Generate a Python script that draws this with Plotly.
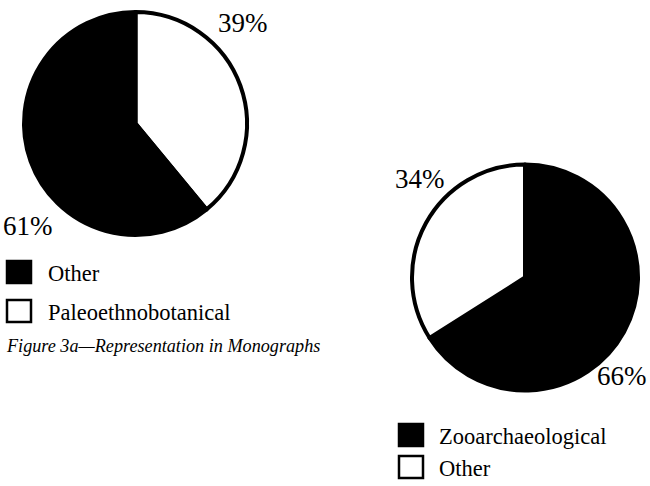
import plotly.graph_objects as go

W, H = 650, 486

# Data
monograph_labels = ["Other", "Paleoethnobotanical"]
monograph_values = [61, 39]
monograph_colors = ["#000000", "#ffffff"]

second_labels = ["Zooarchaeological", "Other"]
second_values = [66, 34]
second_colors = ["#000000", "#ffffff"]

caption = "Figure 3a\u2014Representation in Monographs"

FONT = "Liberation Serif"


def px_dom(cx, cy, r):
    return dict(x=[(cx - r) / W, (cx + r) / W], y=[1 - (cy + r) / H, 1 - (cy - r) / H])


fig = go.Figure()
# first pie: white slice runs clockwise from 12 o'clock
fig.add_trace(go.Pie(
    labels=monograph_labels[::-1], values=monograph_values[::-1], sort=False,
    direction="clockwise", rotation=0,
    marker=dict(colors=monograph_colors[::-1], line=dict(color="#000000", width=4)),
    textinfo="none", hoverinfo="label+percent",
    domain=px_dom(135.5, 123.5, 111.5), showlegend=False,
))
fig.add_trace(go.Pie(
    labels=second_labels, values=second_values, sort=False,
    direction="clockwise", rotation=0,
    marker=dict(colors=second_colors, line=dict(color="#000000", width=4)),
    textinfo="none", hoverinfo="label+percent",
    domain=px_dom(525, 277.5, 113), showlegend=False,
))

annotations = []
shapes = []


def label(x, y, text, size=27, anchor="center", italic=False):
    annotations.append(dict(
        x=x / W, y=1 - y / H, xref="paper", yref="paper", text=text,
        showarrow=False, xanchor=anchor, yanchor="middle",
        font=dict(family=FONT, size=size, color="#000000",
                  style="italic" if italic else "normal"),
    ))


# percent labels
label(243, 23, f"{monograph_values[1]}%")
label(28, 226, f"{monograph_values[0]}%")
label(420, 179, f"{second_values[1]}%")
label(622, 376, f"{second_values[0]}%")


def legend(x0, ys, labels, colors, tx):
    for (y0, y1), lab, col in zip(ys, labels, colors):
        shapes.append(dict(type="rect", xref="paper", yref="paper",
                           x0=x0 / W, x1=(x0 + 24) / W, y0=1 - y1 / H, y1=1 - y0 / H,
                           fillcolor=col, line=dict(color="#000000", width=2.5)))
        label(tx, (y0 + y1) / 2 + 1, lab, size=22.5, anchor="left")


legend(7, [(261, 283), (300, 322)], monograph_labels, monograph_colors, 46)
legend(399, [(424, 446), (456, 478)], second_labels, second_colors, 437)

label(4, 346, caption, size=18.2, anchor="left", italic=True)

fig.update_layout(
    width=W, height=H, margin=dict(l=0, r=0, t=0, b=0),
    paper_bgcolor="#ffffff", plot_bgcolor="#ffffff",
    annotations=annotations, shapes=shapes, showlegend=False,
)

fig.write_html("out.html", config={"displayModeBar": False},
               post_script="document.body.style.margin='0px';")
